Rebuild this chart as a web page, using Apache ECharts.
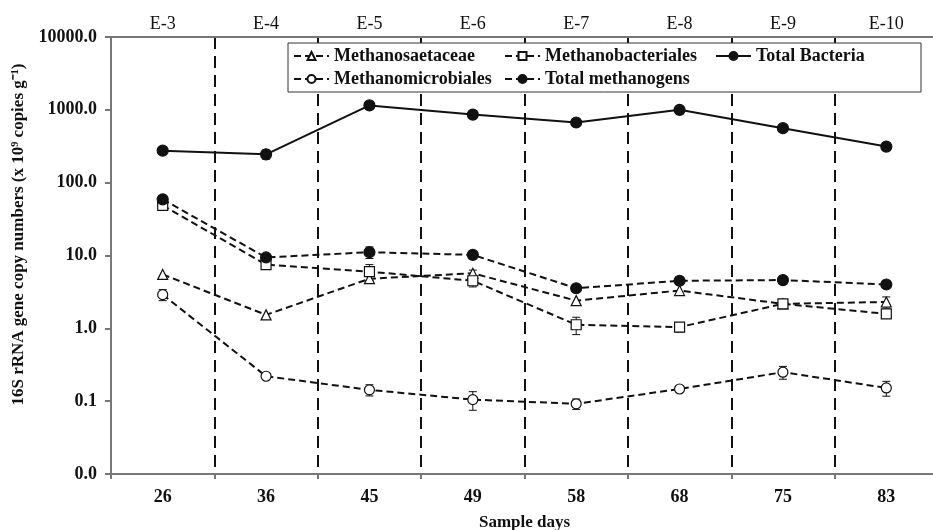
<!DOCTYPE html>
<html>
<head>
<meta charset="utf-8">
<script src="https://cdn.jsdelivr.net/npm/echarts@6/dist/echarts.min.js"></script>
<style>
  html, body { margin: 0; padding: 0; background: #fff; }
  #chart { width: 933px; height: 530px; }
</style>
</head>
<body>
<div id="chart"></div>
<script>
// sample days and sampling points
const days = ['26', '36', '45', '49', '58', '68', '75', '83'];
const points = ['E-3', 'E-4', 'E-5', 'E-6', 'E-7', 'E-8', 'E-9', 'E-10'];

// 16S rRNA gene copies (x 10^9 copies g-1)
const saetaceae = [5.5, 1.53, 4.8, 5.7, 2.4, 3.3, 2.17, 2.3];
const bacteriales = [48.7, 7.5, 6.0, 4.5, 1.12, 1.04, 2.17, 1.58];
const totalBacteria = [275, 245, 1150, 860, 670, 1000, 560, 313];
const microbiales = [2.9, 0.22, 0.143, 0.105, 0.092, 0.147, 0.25, 0.152];
const totalMethanogens = [59, 9.4, 11.1, 10.2, 3.55, 4.5, 4.6, 4.0];

// error bars (+/-)
const errSaetaceae = [0, 0, 0, 0.6, 0, 0, 0, 0.4];
const errBacteriales = [0, 0, 1.5, 0.8, 0.3, 0.15, 0, 0];
const errBacteria = [0, 35, 0, 0, 0, 0, 0, 0];
const errMicrobiales = [0.5, 0, 0.025, 0.03, 0.015, 0, 0.05, 0.035];
const errMethanogens = [0, 0, 2, 0, 0, 0, 0, 0];

const font = 'Liberation Serif';
const chart = echarts.init(document.getElementById('chart'));

function lineSeries(name, data, symbol, filled, dashed) {
  return {
    name: name,
    type: 'line',
    data: data,
    symbol: symbol,
    symbolSize: filled ? 11 : 10,
    xAxisIndex: 0,
    z: 5,
    lineStyle: { color: '#111', width: 2, type: dashed ? [7, 4] : 'solid' },
    itemStyle: { color: filled ? '#111' : '#fff', borderColor: '#111', borderWidth: 1.2 },
    emphasis: { disabled: true }
  };
}

function errSeries(vals, errs) {
  const d = vals.map((v, i) => [i, v, errs[i]]);
  return {
    type: 'custom',
    xAxisIndex: 0,
    z: 4,
    silent: true,
    data: d.filter(x => x[2] > 0),
    renderItem: function (params, api) {
      const i = api.value(0), v = api.value(1), e = api.value(2);
      const lo = api.coord([i, v - e]);
      const hi = api.coord([i, v + e]);
      const w = 4;
      const st = { stroke: '#111', lineWidth: 1 };
      return {
        type: 'group',
        children: [
          { type: 'line', shape: { x1: lo[0], y1: lo[1], x2: hi[0], y2: hi[1] }, style: st },
          { type: 'line', shape: { x1: lo[0] - w, y1: lo[1], x2: lo[0] + w, y2: lo[1] }, style: st },
          { type: 'line', shape: { x1: hi[0] - w, y1: hi[1], x2: hi[0] + w, y2: hi[1] }, style: st }
        ]
      };
    }
  };
}

const option = {
  backgroundColor: '#fff',
  animation: false,
  textStyle: { fontFamily: font },
  grid: { left: 111, top: 37, width: 827, height: 437, outerBoundsMode: 'none' },
  legend: {
    left: 288,
    top: 43,
    width: 630,
    padding: [4, 0, 4, 5],
    itemGap: 5,
    itemWidth: 35,
    itemHeight: 10,
    borderColor: '#333',
    borderWidth: 1,
    backgroundColor: '#fff',
    textStyle: {
      fontFamily: font, fontWeight: 'bold', fontSize: 18, color: '#111',
      width: 165, lineHeight: 18
    },
    data: ['Methanosaetaceae', 'Methanobacteriales', 'Total Bacteria', 'Methanomicrobiales', 'Total methanogens']
  },
  xAxis: [
    {
      type: 'category',
      data: days,
      position: 'bottom',
      name: 'Sample days',
      nameLocation: 'middle',
      nameGap: 40,
      nameTextStyle: { fontFamily: font, fontWeight: 'bold', fontSize: 17, color: '#111' },
      axisLine: { lineStyle: { color: '#777', width: 2 } },
      axisTick: { show: true, length: 5, lineStyle: { color: '#777', width: 2 } },
      axisLabel: { fontFamily: font, fontWeight: 'bold', fontSize: 18, color: '#111', margin: 14 },
      splitLine: { show: true, interval: 0, lineStyle: { color: '#111', width: 2, type: [12, 7] } }
    },
    {
      type: 'category',
      data: points,
      position: 'top',
      axisLine: { lineStyle: { color: '#777', width: 2 } },
      axisTick: { show: false },
      axisLabel: { fontFamily: font, fontSize: 18, color: '#111', margin: 4 },
      splitLine: { show: false }
    }
  ],
  yAxis: {
    type: 'log',
    logBase: 10,
    min: 0.01,
    max: 10000,
    name: '16S rRNA gene copy numbers (x 10⁹ copies g⁻¹)',
    nameLocation: 'middle',
    nameGap: 78,
    nameTextStyle: {
      fontFamily: font, fontWeight: 'bold', fontSize: 17, color: '#111',
      padding: [0, 0, 0, 42]
    },
    axisLine: { show: true, lineStyle: { color: '#777', width: 2 } },
    axisTick: { show: true, length: 6, lineStyle: { color: '#777', width: 2 } },
    axisLabel: {
      fontFamily: font, fontWeight: 'bold', fontSize: 18, color: '#111', margin: 14,
      formatter: v => v.toFixed(1)
    },
    splitLine: { show: false }
  },
  series: [
    errSeries(saetaceae, errSaetaceae),
    errSeries(bacteriales, errBacteriales),
    errSeries(totalBacteria, errBacteria),
    errSeries(microbiales, errMicrobiales),
    errSeries(totalMethanogens, errMethanogens),
    lineSeries('Methanosaetaceae', saetaceae, 'triangle', false, true),
    lineSeries('Methanobacteriales', bacteriales, 'rect', false, true),
    lineSeries('Total Bacteria', totalBacteria, 'circle', true, false),
    lineSeries('Methanomicrobiales', microbiales, 'circle', false, true),
    lineSeries('Total methanogens', totalMethanogens, 'circle', true, true)
  ]
};

chart.setOption(option);
</script>
</body>
</html>
